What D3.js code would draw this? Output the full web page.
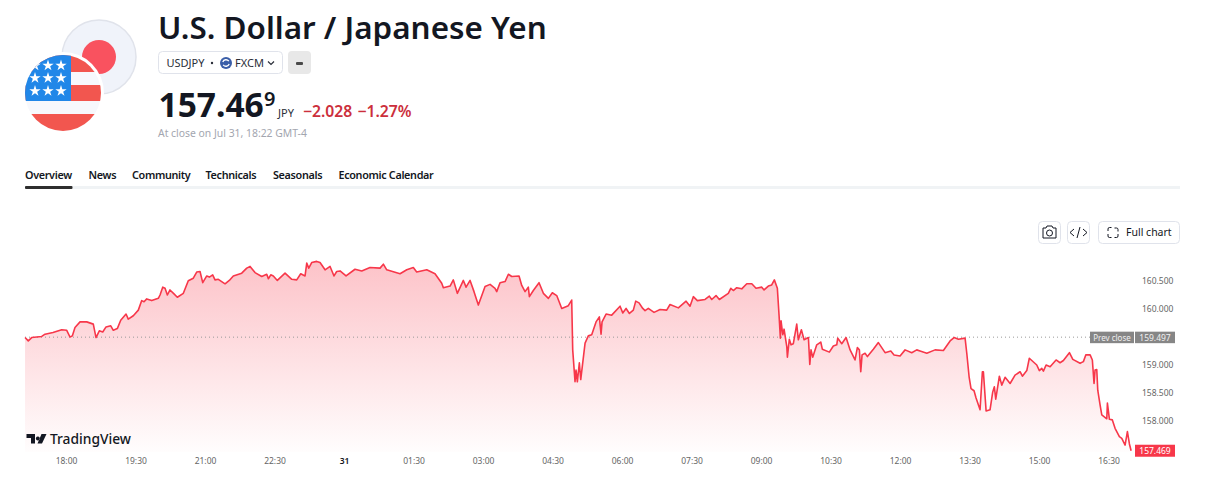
<!DOCTYPE html>
<html><head><meta charset="utf-8">
<script src="https://cdnjs.cloudflare.com/ajax/libs/d3/7.8.5/d3.min.js"></script>
<style>html,body{margin:0;padding:0;background:#fff;overflow:hidden}svg{display:block}text{font-family:"Noto Sans",sans-serif}</style>
</head><body><svg id="c" width="1215" height="483"></svg>
<script>
// minutes since the 17:00 session open
const minutes=[6.3,10.5,14.9,27.9,32.2,42.5,53.8,60.3,64.5,67.5,71,77.5,86.2,94.7,98.2,102.5,106.9,111.2,117.3,120.6,125.8,130.2,137.1,140,146.5,153,157.4,160.4,163.9,170.4,178.9,181.1,184.6,187.6,190.6,194,199.2,203.5,211.3,217.7,224.2,228.6,232.9,236.4,241.6,245,249.3,252.3,256.6,265.3,270.8,276,286.9,293.4,297.7,304.1,312.8,319.3,321.4,324.5,327.8,333,343,351.7,358.1,363.3,368.9,371.1,373.7,377.5,384,388.3,394.8,401.3,406.4,409.9,414.2,422,433.6,442.3,453,466,470.3,474.7,491.9,500.6,509.1,513.5,526.5,537.2,545.9,548,556.7,560.9,566.1,573.9,577.4,582.6,587.7,593.3,602,608.5,614.9,617.1,621.4,627.9,632.2,636.6,646,649.5,653.8,658,659.4,664.5,671.9,677.5,684,689.1,694.8,701.3,709.8,714.2,715.5,718.5,719.8,721.5,724.1,725.9,731.5,735.7,740.1,745.7,750,752.2,753.5,758.7,766,776.8,780.3,784.6,788.9,794,797.1,801.4,806.2,809.2,813.4,820.8,828.6,837.2,841.5,852.3,862.3,867.4,871.7,876.9,886.9,892.4,895.5,901.1,905.4,917,920.2,923.5,927.9,934.4,940.9,947.4,952.9,960.3,963.3,968.8,973.2,976.6,980.5,982.7,984.4,985.3,987.5,989.2,992.7,993.5,996,998.2,1001.2,1005.6,1007.7,1011.6,1015.1,1020.7,1022.5,1024.1,1026.3,1031.5,1036.7,1038.8,1047.8,1053,1057.4,1058.7,1063.9,1069.5,1074.7,1081.1,1084.1,1086.7,1088.5,1090.2,1094.1,1097.1,1104.8,1111.3,1120,1127.4,1131.6,1139.4,1145.9,1154.5,1161,1165.3,1174,1184.7,1195.5,1204.2,1209.3,1215,1223.6,1225.8,1228.8,1231.3,1235.2,1237.8,1243,1246,1247.3,1250.8,1255.9,1259.4,1261.5,1263.3,1268,1271.1,1275.4,1281.9,1288.3,1294.8,1297.8,1303.5,1306.8,1316.4,1319.8,1322.9,1325,1328.5,1333.7,1341.4,1346.6,1350.9,1358.7,1363.1,1372.5,1376.8,1379.9,1385.5,1388.4,1390.6,1391.9,1394.1,1395.4,1398.4,1400.6,1407.1,1407.9,1410.5,1414.3,1417.8,1423.4,1426.5,1430.8,1433.8,1436.4,1438.6];
const prices=[159.49,159.43,159.49,159.51,159.55,159.58,159.63,159.62,159.50,159.52,159.67,159.77,159.77,159.73,159.49,159.61,159.59,159.68,159.70,159.62,159.65,159.80,159.91,159.82,159.88,159.98,160.15,160.13,160.18,160.15,160.19,160.25,160.39,160.37,160.25,160.34,160.27,160.21,160.28,160.505,160.55,160.66,160.67,160.47,160.59,160.57,160.61,160.52,160.53,160.45,160.51,160.59,160.64,160.73,160.76,160.65,160.58,160.62,160.54,160.61,160.59,160.51,160.64,160.53,160.52,160.63,160.59,160.82,160.73,160.83,160.85,160.83,160.70,160.76,160.59,160.67,160.68,160.59,160.71,160.68,160.74,160.73,160.80,160.70,160.63,160.70,160.74,160.66,160.70,160.63,160.46,160.38,160.41,160.52,160.28,160.51,160.39,160.51,160.31,160.07,160.40,160.44,160.37,160.31,160.47,160.49,160.62,160.58,160.59,160.42,160.31,160.39,160.22,160.33,160.47,160.28,160.19,160.29,160.24,160.01,160.06,160.16,159.27,158.70,158.91,158.70,159.04,158.74,159.39,159.52,159.54,159.77,159.86,159.55,159.77,159.91,159.89,160.05,159.93,160.01,159.92,159.98,160.14,160.11,160.01,159.97,160.01,159.94,159.99,159.98,160.08,160.02,160.14,160.05,160.22,160.15,160.17,160.23,160.17,160.24,160.17,160.28,160.37,160.33,160.38,160.36,160.45,160.45,160.37,160.39,160.34,160.41,160.43,160.52,160.37,159.89,159.48,159.79,159.54,159.64,159.33,159.14,159.46,159.36,159.38,159.73,159.45,159.63,159.45,159.49,159.01,159.27,159.14,159.36,159.41,159.28,159.23,159.34,159.36,159.48,159.38,159.49,159.27,159.09,159.31,159.27,158.88,159.18,159.21,159.15,159.28,159.40,159.22,159.25,159.18,159.16,159.27,159.22,159.27,159.25,159.21,159.27,159.26,159.43,159.49,159.46,159.48,159.21,158.79,158.58,158.54,158.41,158.20,158.88,158.88,158.18,158.20,158.52,158.61,158.39,158.80,158.64,158.78,158.67,158.82,158.88,158.80,158.90,159.12,159.00,158.90,158.94,158.89,159.00,158.97,159.09,159.04,159.08,159.22,159.10,159.03,159.06,159.18,159.18,159.09,158.67,158.91,158.92,158.55,158.29,158.11,158.04,158.32,158.03,158.02,157.87,157.72,157.69,157.57,157.81,157.59,157.469];
const tickMinutes=[60,150,240,330,420,510,600,690,780,870,960,1050,1140,1230,1320,1410];
const tickLabels=["18:00","19:30","21:00","22:30","31","01:30","03:00","04:30","06:00","07:30","09:00","10:30","12:00","13:30","15:00","16:30"];
const priceTicks=[160.5,160,159,158.5,158];
const prevClose=159.497, lastPrice=157.469;
const tabs=["Overview","News","Community","Technicals","Seasonals","Economic Calendar"];
const tabX=[25,88.5,132,205.5,273,338.5];

const svg=d3.select("#c");
const RED="#f7374a";
const x=d3.scaleLinear().domain([0,1440]).range([20.17,1132.2]);
const y=d3.scaleLinear().domain([158,160.5]).range([421,281]);
const pts=minutes.map((m,i)=>[m,prices[i]]);
const defs=svg.append("defs");
const g=defs.append("linearGradient").attr("id","fill").attr("gradientUnits","userSpaceOnUse").attr("x1",0).attr("x2",0).attr("y1",262).attr("y2",452);
g.append("stop").attr("offset",0).attr("stop-color",RED).attr("stop-opacity",.3);
g.append("stop").attr("offset",1).attr("stop-color",RED).attr("stop-opacity",.01);
defs.append("clipPath").attr("id","usClip").append("circle").attr("cx",63).attr("cy",93).attr("r",38);

// --- logos
svg.append("circle").attr("cx",99).attr("cy",57).attr("r",37).attr("fill","#f0f3fa").attr("stroke","#e0e3eb").attr("stroke-width",1.5);
svg.append("circle").attr("cx",99).attr("cy",57).attr("r",17).attr("fill","#f9525f");
svg.append("circle").attr("cx",63).attr("cy",93).attr("r",41).attr("fill","#fff");
const us=svg.append("g").attr("clip-path","url(#usClip)");
us.append("rect").attr("x",25).attr("y",55).attr("width",76).attr("height",76).attr("fill","#f7f8fc");
[[55,17],[85,16],[114,17]].forEach(([t,h])=>us.append("rect").attr("x",25).attr("y",t).attr("width",76).attr("height",h).attr("fill","#f2564f"));
us.append("rect").attr("x",25).attr("y",55).attr("width",46).attr("height",46).attr("fill","#2187e8");
const star=d3.symbol().type(d3.symbolStar).size(40)();
[65.5,78,91].forEach(sy=>[35,48,61].forEach(sx=>us.append("path").attr("d",star).attr("fill","#fff").attr("transform",`translate(${sx},${sy})`)));

// --- header
const T=(tx,ty,s,size,weight,fill,anchor)=>svg.append("text").attr("x",tx).attr("y",ty).attr("font-size",size).attr("font-weight",weight||400).attr("fill",fill||"#131722").attr("text-anchor",anchor||"start").text(s);
T(158,39,"U.S. Dollar / Japanese Yen",31.4,600,"#131722");
svg.append("rect").attr("x",158.5).attr("y",51.5).attr("width",124).attr("height",22).attr("rx",4).attr("fill","#fff").attr("stroke","#e0e3eb");
T(166.5,67,"USDJPY",11,400,"#2a2e39");
svg.append("circle").attr("cx",212).attr("cy",63).attr("r",1.2).attr("fill","#2a2e39");
svg.append("circle").attr("cx",226).attr("cy",63).attr("r",6).attr("fill","#3a5ea8");
svg.append("path").attr("d","M222.8 62a3.4 3.4 0 0 1 6 -.8M229.2 64a3.4 3.4 0 0 1 -6 .8").attr("fill","none").attr("stroke","#fff").attr("stroke-width",1.3);
T(235,67,"FXCM",11,400,"#2a2e39");
svg.append("path").attr("d","M268 61.5l3 3 3-3").attr("fill","none").attr("stroke","#2a2e39").attr("stroke-width",1.2);
svg.append("rect").attr("x",288).attr("y",51).attr("width",23).attr("height",23).attr("rx",4).attr("fill","#e8e8e8");
svg.append("rect").attr("x",296).attr("y",62).attr("width",7).attr("height",3).attr("rx",1).attr("fill","#4a4a4a");
T(158.5,117,"157.46",33.5,700,"#131722");
T(264,106,"9",20,600,"#131722");
T(278,117,"JPY",11,400,"#2a2e39");
T(303,117,"−2.028",15.7,600,"#cc2f3c");
T(357.5,117,"−1.27%",15.7,600,"#cc2f3c");
T(158,137,"At close on Jul 31, 18:22 GMT-4",10.4,400,"#a3a6af");
tabs.forEach((t,i)=>T(tabX[i],179,t,10.8,600,"#131722").attr("letter-spacing",-0.33));
svg.append("rect").attr("x",25).attr("y",186).attr("width",1155).attr("height",3).attr("fill","#f0f3f5");
svg.append("rect").attr("x",25).attr("y",186).attr("width",47.5).attr("height",3).attr("rx",1).attr("fill","#2e2e2e");

// --- chart tools
[[1038.5,22],[1067.5,22],[1098.5,81]].forEach(([bx,w])=>svg.append("rect").attr("x",bx).attr("y",221.5).attr("width",w).attr("height",22).attr("rx",4).attr("fill","#fff").attr("stroke","#e0e3eb"));
svg.append("path").attr("d","M1043 228h3l1-2h5l1 2h3v10h-13z").attr("fill","none").attr("stroke","#131722").attr("stroke-width",1);
svg.append("circle").attr("cx",1049.5).attr("cy",233).attr("r",3).attr("fill","none").attr("stroke","#131722");
svg.append("path").attr("d","M1074 229l-4 3.5 4 3.5M1083 229l4 3.5-4 3.5M1080 227l-3 11").attr("fill","none").attr("stroke","#131722");
svg.append("path").attr("d","M1108 231v-2a1.5 1.5 0 0 1 1.5-1.500h2M1114.500 228h2a1.500 1.500 0 0 1 1.500 1.500v2M1118 234v2a1.500 1.500 0 0 1-1.500 1.500h-2M1111.500 237.500h-2a1.500 1.500 0 0 1-1.500-1.500v-2").attr("fill","none").attr("stroke","#131722");
T(1126,236,"Full chart",10.5,400,"#131722");

// --- series
svg.append("path").datum(pts).attr("fill","url(#fill)").attr("d",d3.area().x(d=>x(d[0])).y0(452).y1(d=>y(d[1])));
svg.append("line").attr("x1",25).attr("x2",1090).attr("y1",y(prevClose)).attr("y2",y(prevClose)).attr("stroke","#9a9a9a").attr("stroke-width",1).attr("stroke-dasharray","1 3");
svg.append("path").datum(pts).attr("fill","none").attr("stroke",RED).attr("stroke-width",1.6).attr("stroke-linejoin","round").attr("d",d3.line().x(d=>x(d[0])).y(d=>y(d[1])));

// --- axes
const yAxis=svg.append("g").attr("transform","translate(1142,0)").call(d3.axisRight(y).tickValues(priceTicks).tickSize(0).tickPadding(0).tickFormat(d3.format(".3f")));
yAxis.select(".domain").remove();
yAxis.selectAll("text").attr("font-size",8.5).attr("fill","#666").style("font-family","'Noto Sans',sans-serif");
const xAxis=svg.append("g").attr("transform","translate(-0.5,458)").call(d3.axisBottom(x).tickValues(tickMinutes).tickSize(0).tickPadding(0).tickFormat((d,i)=>tickLabels[i]));
xAxis.select(".domain").remove();
xAxis.selectAll("text").attr("font-size",8.5).attr("fill","#666").style("font-family","'Noto Sans',sans-serif").filter(d=>d===420).attr("fill","#131722").attr("font-weight",600);

// --- price labels
svg.append("rect").attr("x",1090).attr("y",y(prevClose)-5.5).attr("width",44).attr("height",11.5).attr("fill","#868686");
svg.append("rect").attr("x",1135).attr("y",y(prevClose)-5.5).attr("width",40).attr("height",11.5).attr("fill","#868686");
T(1112,y(prevClose)+3.5,"Prev close",8,400,"#f0f0f0","middle");
T(1155,y(prevClose)+3.5,d3.format(".3f")(prevClose),8.5,400,"#f0f0f0","middle");
svg.append("rect").attr("x",1135).attr("y",y(lastPrice)-6).attr("width",40).attr("height",12).attr("fill","#f7374a");
T(1155,y(lastPrice)+3.5,d3.format(".3f")(lastPrice),8.5,400,"#fff","middle");

// --- watermark
svg.append("path").attr("d","M26.500 434h8.500v9.500h-4v-5.500h-4.500zM41.500 434h5l-4.500 9.500h-4.500zM37.800 436.500a2 2 0 1 0 .1 0z").attr("fill","#131722");
T(50,444,"TradingView",13.8,500,"#131722");
</script></body></html>
